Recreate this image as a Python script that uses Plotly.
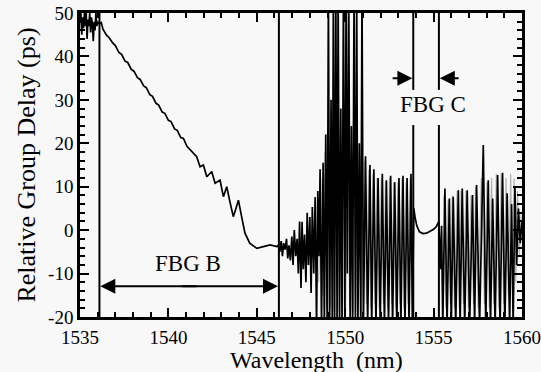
import plotly.graph_objects as go

# ---------------- data ----------------
# noisy start near 1535 nm
wl_a = [1535.0, 1535.05, 1535.1, 1535.15, 1535.2, 1535.25, 1535.3, 1535.35, 1535.4, 1535.45,
        1535.5, 1535.55, 1535.6, 1535.65, 1535.7, 1535.75, 1535.8, 1535.85, 1535.9, 1535.95,
        1536.0, 1536.1, 1536.2]
gd_a = [48.0, 50.0, 45.0, 49.0, 46.5, 50.0, 47.0, 50.0, 44.0, 48.5,
        47.0, 50.0, 45.5, 49.0, 47.5, 43.5, 48.0, 46.0, 50.0, 47.0,
        48.0, 47.5, 47.8]

# linear slope of FBG B with ripples
wl_b = [1536.3, 1536.5, 1536.65, 1536.85, 1537.0, 1537.2, 1537.35, 1537.55, 1537.7, 1537.9,
        1538.05, 1538.25, 1538.4, 1538.6, 1538.75, 1538.95, 1539.1, 1539.3, 1539.45, 1539.65,
        1539.8, 1540.0, 1540.15, 1540.35, 1540.5, 1540.7, 1540.85, 1541.05, 1541.22, 1541.4,
        1541.6, 1541.79, 1541.98, 1542.17, 1542.45, 1542.64, 1542.92, 1543.11, 1543.3, 1543.48,
        1543.67, 1543.82, 1543.96, 1544.14, 1544.33, 1544.6, 1545.0, 1545.37, 1545.75, 1546.13]
gd_b = [46.3, 44.9, 44.3, 43.1, 42.5, 40.9, 40.5, 38.9, 38.6, 37.0,
        36.6, 35.1, 34.7, 33.2, 32.8, 31.2, 30.8, 29.2, 28.8, 27.2,
        26.9, 25.3, 25.0, 23.3, 23.0, 21.3, 21.1, 19.3, 18.5, 17.6,
        16.9, 14.6, 15.0, 12.3, 13.5, 10.8, 11.5, 7.7, 10.0, 6.5,
        3.1, 5.0, 6.9, 3.1, -0.7, -3.0, -4.2, -3.8, -3.4, -3.8]

# noisy transition after FBG B
wl_c = [1546.2, 1546.3, 1546.38, 1546.45, 1546.52, 1546.6, 1546.68, 1546.75, 1546.82, 1546.9,
        1546.98, 1547.05, 1547.12, 1547.2, 1547.28, 1547.35, 1547.42, 1547.5, 1547.56, 1547.63,
        1547.7, 1547.78, 1547.85, 1547.92, 1548.0, 1548.07, 1548.14, 1548.22]
gd_c = [-3.5, -5.0, -2.5, -6.0, -3.0, -4.5, -2.0, -6.5, -3.5, -7.0,
        -1.5, -8.0, 0.0, -6.0, -2.0, -10.0, 2.0, -13.3, 1.9, -9.0,
        -1.0, -12.0, 4.0, -8.0, 3.0, -14.5, 5.3, -10.0]

# fringes before FBG C (1548 - 1553.9 nm)
wl_d = [1548.3, 1548.38, 1548.45, 1548.52, 1548.58, 1548.66, 1548.75, 1548.82, 1548.9, 1548.98,
        1549.05, 1549.12, 1549.2, 1549.27, 1549.33, 1549.4, 1549.47, 1549.54, 1549.6, 1549.68,
        1549.75, 1549.82, 1549.9, 1549.98, 1550.05, 1550.12, 1550.2, 1550.28, 1550.35, 1550.42,
        1550.5, 1550.58, 1550.65, 1550.72, 1550.8, 1550.88, 1550.95, 1551.03, 1551.15, 1551.27,
        1551.4, 1551.5, 1551.62, 1551.74, 1551.86, 1551.98, 1552.1, 1552.22, 1552.33, 1552.45,
        1552.57, 1552.68, 1552.8, 1552.92, 1553.04, 1553.15, 1553.27, 1553.38, 1553.5, 1553.61,
        1553.72, 1553.8, 1553.88]
gd_d = [7.6, -22.0, 9.0, -6.0, 14.0, -22.0, 15.5, -22.0, 22.0, -22.0,
        55.0, -22.0, 30.0, -22.0, 55.0, -22.0, 55.0, -22.0, 55.0, -22.0,
        28.0, -22.0, 55.0, -22.0, 55.0, -10.0, 55.0, -22.0, 24.0, -22.0,
        55.0, -22.0, 55.0, -22.0, 20.0, -22.0, 55.0, -22.0, 17.0, -22.0,
        15.0, -22.0, 14.0, -22.0, 12.0, -22.0, 13.0, -22.0, 11.5, -22.0,
        12.5, -22.0, 11.0, -22.0, 12.0, -22.0, 12.5, -22.0, 12.0, -22.0,
        13.0, -22.0, 5.0]

# smooth dip inside FBG C
wl_e = [1553.95, 1554.05, 1554.2, 1554.4, 1554.6, 1554.8, 1555.0, 1555.15, 1555.3]
gd_e = [3.0, 1.0, -0.4, -0.8, -0.7, -0.3, 0.2, 0.8, 2.0]

# fringes after FBG C
wl_f = [1555.38, 1555.45, 1555.52, 1555.64, 1555.76, 1555.89, 1556.0, 1556.11, 1556.25, 1556.4,
        1556.5, 1556.62, 1556.76, 1556.9, 1557.04, 1557.2, 1557.32, 1557.43, 1557.6, 1557.81,
        1557.95, 1558.09, 1558.22, 1558.34, 1558.48, 1558.62, 1558.76, 1558.9, 1559.03, 1559.16,
        1559.3, 1559.41, 1559.5, 1559.6, 1559.7, 1559.8, 1559.9, 1560.0]
gd_f = [-9.0, 1.0, -22.0, 9.6, -22.0, 7.3, -22.0, 7.7, -22.0, 9.2,
        -22.0, 9.6, -22.0, 9.2, -22.0, 8.1, -22.0, 10.4, -22.0, 19.6,
        -22.0, 11.5, -22.0, 7.3, -22.0, 12.7, -22.0, 13.2, -22.0, 8.5,
        -22.0, 6.0, -22.0, 10.0, -8.0, 5.0, -3.0, 2.0]

wavelength = wl_a + wl_b + wl_c + wl_d + wl_e + wl_f
group_delay = gd_a + gd_b + gd_c + gd_d + gd_e + gd_f

# faint (grey) repeat trace visible behind the fringes
wl_grey = [1548.5, 1548.62, 1548.72, 1548.86, 1548.95, 1549.08, 1549.16, 1549.3, 1549.37, 1549.5,
           1549.57, 1549.72, 1549.8, 1549.94, 1550.02, 1550.16, 1550.25, 1550.38, 1550.46, 1550.6,
           1550.68, 1550.84, 1550.92, 1551.08, 1551.2, 1551.33, 1551.45, 1551.57, 1551.69, 1551.8,
           1551.92, 1552.04, 1552.16, 1552.28, 1552.4, 1552.51, 1552.63, 1552.75, 1552.86, 1552.98,
           1553.1, 1553.21, 1553.33, 1553.44, 1553.56, 1553.67, 1553.78]
gd_grey = [-12.0, 12.0, -15.0, 18.0, -18.0, 20.0, -18.0, 20.0, -19.0, 22.0,
           -19.0, 20.0, -18.0, 22.0, -19.0, 20.0, -18.0, 18.0, -19.0, 17.0,
           -18.0, 17.0, -19.0, 16.0, -17.0, 14.0, -18.0, 13.0, -17.0, 12.0,
           -18.0, 12.0, -17.0, 11.0, -18.0, 12.0, -17.0, 11.0, -18.0, 11.0,
           -17.0, 12.0, -18.0, 11.0, -17.0, 12.0, -6.0]
wl_grey2 = [1555.58, 1555.7, 1555.82, 1555.95, 1556.06, 1556.18, 1556.33, 1556.45, 1556.56, 1556.69,
            1556.83, 1556.97, 1557.12, 1557.26, 1557.38, 1557.52, 1557.7, 1557.88, 1558.02, 1558.15,
            1558.28, 1558.41, 1558.55, 1558.69, 1558.83, 1558.97, 1559.1, 1559.23, 1559.36, 1559.46,
            1559.55, 1559.65, 1559.75, 1559.85, 1559.95]
gd_grey2 = [8.0, -18.0, 7.0, -17.0, 8.0, -18.0, 9.0, -18.0, 9.0, -17.0,
            9.0, -18.0, 8.0, -17.0, 10.0, -18.0, 12.0, -17.0, 11.0, -18.0,
            12.0, -17.0, 13.0, -18.0, 13.0, -17.0, 12.0, -15.0, 13.0, -10.0,
            12.0, -12.0, 9.0, -6.0, 4.0]

x_tick_vals = [1535, 1540, 1545, 1550, 1555, 1560]
x_tick_text = ["1535", "1540", "1545", "1550", "1555", "1560"]
y_tick_vals = [-20, -10, 0, 10, 20, 30, 40, 50]
y_tick_text = ["-20", "-10", "0", "10", "20", "30", "40", "50"]

# grating boundary markers (nm) and label levels (ps)
fbg_b_edges = [1536.1, 1546.25]
fbg_c_edges = [1553.85, 1555.3]
fbg_b_arrow_y = -12.9
fbg_c_arrow_y = 35.0
fbg_c_gap = [24.2, 32.3]

# ---------------- figure ----------------
FONT = "Liberation Serif"
fig = go.Figure()
fig.add_trace(go.Scatter(x=wl_grey + [None] + wl_grey2, y=gd_grey + [None] + gd_grey2,
                         mode="lines", line=dict(color="#b4b4b4", width=1.2),
                         connectgaps=False, showlegend=False))
fig.add_trace(go.Scatter(x=wavelength, y=group_delay, mode="lines",
                         line=dict(color="black", width=1.7), showlegend=False))

shapes = []
for xe in fbg_b_edges:
    shapes.append(dict(type="line", xref="x", yref="y", x0=xe, x1=xe, y0=-20, y1=50,
                       line=dict(color="black", width=2)))
for xe in fbg_c_edges:
    shapes.append(dict(type="line", xref="x", yref="y", x0=xe, x1=xe, y0=-20, y1=fbg_c_gap[0],
                       line=dict(color="black", width=2)))
    shapes.append(dict(type="line", xref="x", yref="y", x0=xe, x1=xe, y0=fbg_c_gap[1], y1=50,
                       line=dict(color="black", width=2)))

mid_b = (fbg_b_edges[0] + fbg_b_edges[1]) / 2
annotations = [
    dict(x=fbg_b_edges[0] + 0.05, y=fbg_b_arrow_y, ax=mid_b + 0.5, ay=fbg_b_arrow_y, xref="x", yref="y",
         axref="x", ayref="y", text="", showarrow=True, arrowhead=2, arrowsize=1.5,
         arrowwidth=2, arrowcolor="black"),
    dict(x=fbg_b_edges[1] - 0.05, y=fbg_b_arrow_y, ax=mid_b - 0.5, ay=fbg_b_arrow_y, xref="x", yref="y",
         axref="x", ayref="y", text="", showarrow=True, arrowhead=2, arrowsize=1.5,
         arrowwidth=2, arrowcolor="black"),
    dict(x=fbg_c_edges[0] - 0.05, y=fbg_c_arrow_y, ax=fbg_c_edges[0] - 1.25, ay=fbg_c_arrow_y,
         xref="x", yref="y", axref="x", ayref="y", text="", showarrow=True, arrowhead=2,
         arrowsize=1.5, arrowwidth=2, arrowcolor="black"),
    dict(x=fbg_c_edges[1] + 0.05, y=fbg_c_arrow_y, ax=fbg_c_edges[1] + 1.2, ay=fbg_c_arrow_y,
         xref="x", yref="y", axref="x", ayref="y", text="", showarrow=True, arrowhead=2,
         arrowsize=1.5, arrowwidth=2, arrowcolor="black"),
    dict(x=1541.1, y=-7.7, xref="x", yref="y", text="FBG B", showarrow=False,
         font=dict(family=FONT, size=23, color="black")),
    dict(x=1554.95, y=29.0, xref="x", yref="y", text="FBG C", showarrow=False,
         font=dict(family=FONT, size=23, color="black")),
    dict(x=0.536, y=0.0, xref="paper", yref="paper", yshift=-57, text="Wavelength  (nm)",
         showarrow=False, xanchor="center", yanchor="bottom", borderpad=0,
         font=dict(family=FONT, size=24, color="black")),
]

axis_common = dict(showline=True, linecolor="black", linewidth=2.5, mirror="ticks",
                   ticks="inside", tickcolor="black", tickwidth=2, showgrid=False, zeroline=False,
                   automargin=False, tickfont=dict(family=FONT, size=19, color="black"))

fig.update_xaxes(range=[1535, 1560], tickvals=x_tick_vals, ticktext=x_tick_text, ticklen=9,
                 ticklabelstandoff=1,
                 minor=dict(dtick=1, ticks="inside", ticklen=5, tickcolor="black", tickwidth=2),
                 **axis_common)
fig.update_yaxes(range=[-20, 50], tickvals=y_tick_vals, ticktext=y_tick_text, ticklen=9,
                 minor=dict(dtick=2, ticks="inside", ticklen=5, tickcolor="black", tickwidth=2),
                 title=dict(text="Relative Group Delay (ps)",
                            font=dict(family=FONT, size=26, color="black"), standoff=6),
                 **axis_common)

fig.update_layout(width=541, height=372, margin=dict(l=80, r=19, t=13, b=55),
                  paper_bgcolor="#f8f8f8", plot_bgcolor="#f8f8f8",
                  shapes=shapes, annotations=annotations, showlegend=False)

fig.write_html("out.html")
